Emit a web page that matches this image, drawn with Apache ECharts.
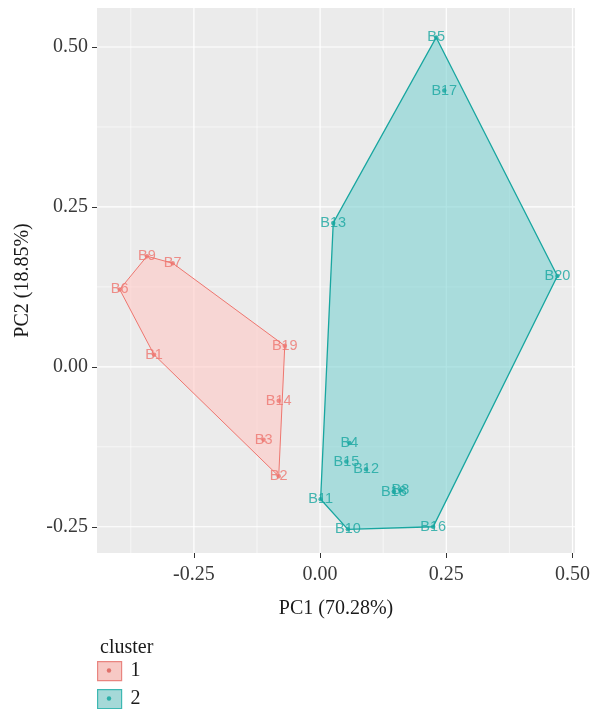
<!DOCTYPE html>
<html>
<head>
<meta charset="utf-8">
<script src="https://cdn.jsdelivr.net/npm/echarts@6/dist/echarts.min.js"></script>
<style>html,body{margin:0;padding:0;background:#fff}#c{width:593px;height:709px}</style>
</head>
<body>
<div id="c"></div>
<script>
// ---- data ----
const cluster1Names = ['B1','B2','B3','B6','B7','B9','B14','B19'];
const cluster1PC1   = [-0.329,-0.082,-0.112,-0.397,-0.292,-0.343,-0.082,-0.070];
const cluster1PC2   = [0.019,-0.171,-0.114,0.121,0.162,0.173,-0.053,0.033];
const hull1         = ['B9','B7','B19','B2','B1','B6'];

const cluster2Names = ['B4','B5','B8','B10','B11','B12','B13','B15','B16','B17','B18','B20'];
const cluster2PC1   = [0.058,0.230,0.159,0.055,0.001,0.091,0.026,0.052,0.224,0.246,0.146,0.470];
const cluster2PC2   = [-0.119,0.515,-0.193,-0.254,-0.207,-0.160,0.225,-0.148,-0.250,0.432,-0.195,0.142];
const hull2         = ['B5','B20','B16','B10','B11','B13'];

const xTicks = [-0.25, 0.00, 0.25, 0.50];
const yTicks = [-0.25, 0.00, 0.25, 0.50];
const xMinor = [-0.375, -0.125, 0.125, 0.375];
const yMinor = [-0.125, 0.125, 0.375];
const xRange = [-0.442, 0.505];
const yRange = [-0.291, 0.561];

// ---- styles ----
const RED = '#EE766F', RED_FILL = 'rgba(255,200,196,0.6)';
const TEAL = '#18A6A0', TEAL_FILL = 'rgba(125,210,210,0.6)';
const SERIF = '"Liberation Serif", "DejaVu Serif", serif';
const SANS = '"Liberation Sans", Arial, sans-serif';

function pts(names, xs, ys) { return names.map((n, i) => ({ name: n, value: [xs[i], ys[i]] })); }
function hullPts(hull, names, xs, ys) { return hull.map(h => { const i = names.indexOf(h); return [xs[i], ys[i]]; }); }

const hullData1 = hullPts(hull1, cluster1Names, cluster1PC1, cluster1PC2);
const hullData2 = hullPts(hull2, cluster2Names, cluster2PC1, cluster2PC2);

function polySeries(name, data, fill, stroke, lw) {
  return {
    type: 'custom', name: name, data: data, z: 2,
    itemStyle: { color: fill, borderColor: stroke },
    encode: { x: 0, y: 1 },
    renderItem: function (params, api) {
      if (params.dataIndex !== 0) return;
      const points = data.map(p => api.coord(p));
      return { type: 'polygon', shape: { points: points }, style: { fill: fill, stroke: stroke, lineWidth: lw } };
    }
  };
}

function gridLineSeries(vals, dir, lw) {
  return {
    type: 'custom', silent: true, z: 1,
    data: vals.map(v => dir === 'x' ? [v, yRange[0]] : [xRange[0], v]),
    encode: { x: 0, y: 1 },
    renderItem: function (params, api) {
      const cs = params.coordSys;
      const p = api.coord([api.value(0), api.value(1)]);
      const shape = dir === 'x'
        ? { x1: p[0], y1: cs.y, x2: p[0], y2: cs.y + cs.height }
        : { x1: cs.x, y1: p[1], x2: cs.x + cs.width, y2: p[1] };
      return { type: 'line', shape: shape, style: { stroke: '#ffffff', lineWidth: lw } };
    }
  };
}

function scatterSeries(name, data, color) {
  return {
    type: 'scatter', name: name, data: data, z: 3,
    symbolSize: 4.5, itemStyle: { color: color },
    label: { show: true, position: 'inside', formatter: '{b}', color: color, fontFamily: SANS, fontSize: 14.5 }
  };
}

function legendFor(name, top, fill, border) {
  return {
    orient: 'vertical', left: 97, top: top, itemWidth: 24, itemHeight: 19, padding: 0,
    icon: 'rect', selectedMode: false,
    textStyle: { fontFamily: SERIF, fontSize: 20, color: '#1a1a1a', padding: [0, 0, 0, 4] },
    data: [{ name: name, itemStyle: { color: fill, borderColor: border, borderWidth: 1.2 } }]
  };
}

const chart = echarts.init(document.getElementById('c'));
chart.setOption({
  animation: false,
  backgroundColor: '#ffffff',
  grid: { left: 97, right: 11, top: 8, bottom: 156, show: true, backgroundColor: '#EBEBEB', borderWidth: 0 },
  xAxis: {
    type: 'value', min: xRange[0], max: xRange[1],
    name: 'PC1 (70.28%)', nameLocation: 'middle', nameGap: 46,
    nameTextStyle: { fontFamily: SERIF, fontSize: 20, color: '#1a1a1a' },
    axisLine: { show: false, onZero: false },
    axisTick: { show: true, length: 5, lineStyle: { color: '#333', width: 1 }, customValues: xTicks },
    axisLabel: { customValues: xTicks, formatter: v => v.toFixed(2), fontFamily: SERIF, fontSize: 20, color: '#3a3a3a', margin: 12 },
    splitLine: { show: false }
  },
  yAxis: {
    type: 'value', min: yRange[0], max: yRange[1],
    name: 'PC2 (18.85%)', nameLocation: 'middle', nameGap: 64,
    nameTextStyle: { fontFamily: SERIF, fontSize: 20, color: '#1a1a1a' },
    axisLine: { show: false, onZero: false },
    axisTick: { show: true, length: 5, lineStyle: { color: '#333', width: 1 }, customValues: yTicks },
    axisLabel: { customValues: yTicks, formatter: v => v.toFixed(2), fontFamily: SERIF, fontSize: 20, color: '#3a3a3a', margin: 9 },
    splitLine: { show: false }
  },
  title: { text: 'cluster', left: 95, top: 633, textStyle: { fontFamily: SERIF, fontSize: 20, fontWeight: 'normal', color: '#1a1a1a' } },
  legend: [
    legendFor('1', 661, '#F7C9C5', '#E98580'),
    legendFor('2', 689, '#A5D9D8', '#3DB8B2')
  ],
  graphic: [
    { type: 'circle', shape: { cx: 109, cy: 670.5, r: 2.2 }, style: { fill: '#E0716B' }, z: 100 },
    { type: 'circle', shape: { cx: 109, cy: 698.5, r: 2.2 }, style: { fill: '#2AAFA8' }, z: 100 }
  ],
  series: [
    gridLineSeries(xMinor, 'x', 0.6),
    gridLineSeries(yMinor, 'y', 0.6),
    gridLineSeries(xTicks, 'x', 1.2),
    gridLineSeries(yTicks, 'y', 1.2),
    polySeries('1', hullData1, RED_FILL, RED, 1),
    polySeries('2', hullData2, TEAL_FILL, TEAL, 1.3),
    scatterSeries('c1', pts(cluster1Names, cluster1PC1, cluster1PC2), RED),
    scatterSeries('c2', pts(cluster2Names, cluster2PC1, cluster2PC2), TEAL)
  ]
});
</script>
</body>
</html>
